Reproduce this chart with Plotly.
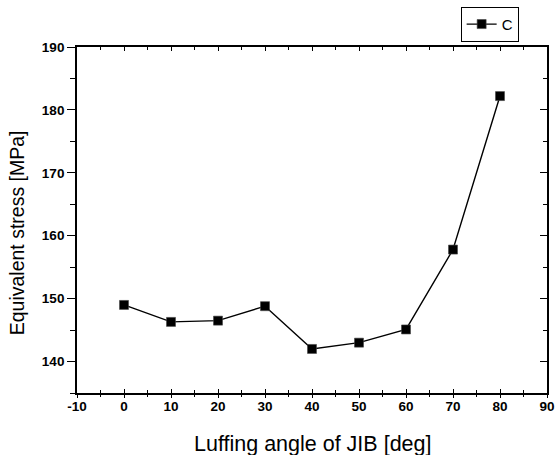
import plotly.graph_objects as go

angles = [0, 10, 20, 30, 40, 50, 60, 70, 80]
stress_c = [149.0, 146.3, 146.5, 148.8, 142.0, 143.0, 145.1, 157.8, 182.2]
series_name = "C"

x_range = [-10, 90]
y_range = [135, 190]
x_tickvals = [-10, 0, 10, 20, 30, 40, 50, 60, 70, 80, 90]
x_ticktext = ["-10", "0", "10", "20", "30", "40", "50", "60", "70", "80", "90"]
y_tickvals = [140, 150, 160, 170, 180, 190]
y_ticktext = ["140", "150", "160", "170", "180", "190"]
x_title = "Luffing angle of JIB [deg]"
y_title = "Equivalent stress [MPa]"

FONT = "Liberation Sans, Arial"

fig = go.Figure()
fig.add_trace(go.Scatter(
    x=angles, y=stress_c, name=series_name, mode="lines+markers",
    line=dict(color="black", width=1.4),
    marker=dict(symbol="square", size=9, color="black", line=dict(color="#444", width=0.6)),
))
# invisible copy so that the overlay axes (outer bottom ticks, right ticks) get drawn
fig.add_trace(go.Scatter(
    x=angles, y=stress_c, xaxis="x2", yaxis="y2", mode="markers",
    marker=dict(opacity=0), showlegend=False, hoverinfo="skip",
))

tickfont = dict(family=FONT, size=13.5, color="black")
common = dict(showgrid=False, zeroline=False, linecolor="black", linewidth=1.8,
              tickcolor="black", tickwidth=1.4, automargin=False)

fig.update_layout(
    width=555, height=455,
    margin=dict(l=77, r=8, t=47, b=62, autoexpand=False),
    paper_bgcolor="white", plot_bgcolor="white",
    font=dict(family=FONT, color="black"),
    showlegend=True,
    legend=dict(xref="container", yref="container", x=0.83, y=0.985,
                xanchor="left", yanchor="top",
                bordercolor="black", borderwidth=1, bgcolor="white",
                font=dict(size=15, family=FONT),
                itemwidth=30, tracegroupgap=0),
    xaxis=dict(range=x_range, tickvals=x_tickvals, ticktext=["<b>%s</b>" % t for t in x_ticktext],
               ticks="inside", ticklen=4, tickfont=tickfont, showline=True, mirror="ticks",
               minor=dict(dtick=5, tick0=0, ticks="inside", ticklen=3, tickcolor="black", tickwidth=1.4),
               **common),
    xaxis2=dict(range=x_range, tickvals=x_tickvals, overlaying="x", side="bottom", anchor="y2",
                ticks="outside", ticklen=4, showticklabels=False, showline=False,
                minor=dict(dtick=5, tick0=0, ticks="outside", ticklen=3, tickcolor="black", tickwidth=1.4),
                **common),
    yaxis=dict(range=y_range, tickvals=y_tickvals, ticktext=["<b>%s</b>" % t for t in y_ticktext],
               ticks="outside", ticklen=8, tickfont=tickfont, showline=True, mirror=True,
               minor=dict(dtick=5, tick0=0, ticks="outside", ticklen=5, tickcolor="black", tickwidth=1.4),
               **common),
    yaxis2=dict(range=y_range, tickvals=y_tickvals, overlaying="y", side="right", anchor="x2",
                ticks="inside", ticklen=7, showticklabels=False, showline=False,
                minor=dict(dtick=5, tick0=0, ticks="inside", ticklen=4, tickcolor="black", tickwidth=1.4),
                **common),
    annotations=[
        dict(text=x_title, xref="paper", yref="paper", x=0.5, y=-0.107, yanchor="top",
             xanchor="center", showarrow=False, font=dict(size=21.5, family=FONT)),
        dict(text=y_title, xref="paper", yref="paper", x=-0.155, y=0.462, xanchor="left",
             yanchor="middle", textangle=-90, showarrow=False, font=dict(size=19.5, family=FONT)),
    ],
)

fig.write_html("out.html",
               config={"displayModeBar": False},
               post_script="document.body.style.margin='0';document.body.style.padding='0';"
                           "document.body.style.overflow='hidden';")
